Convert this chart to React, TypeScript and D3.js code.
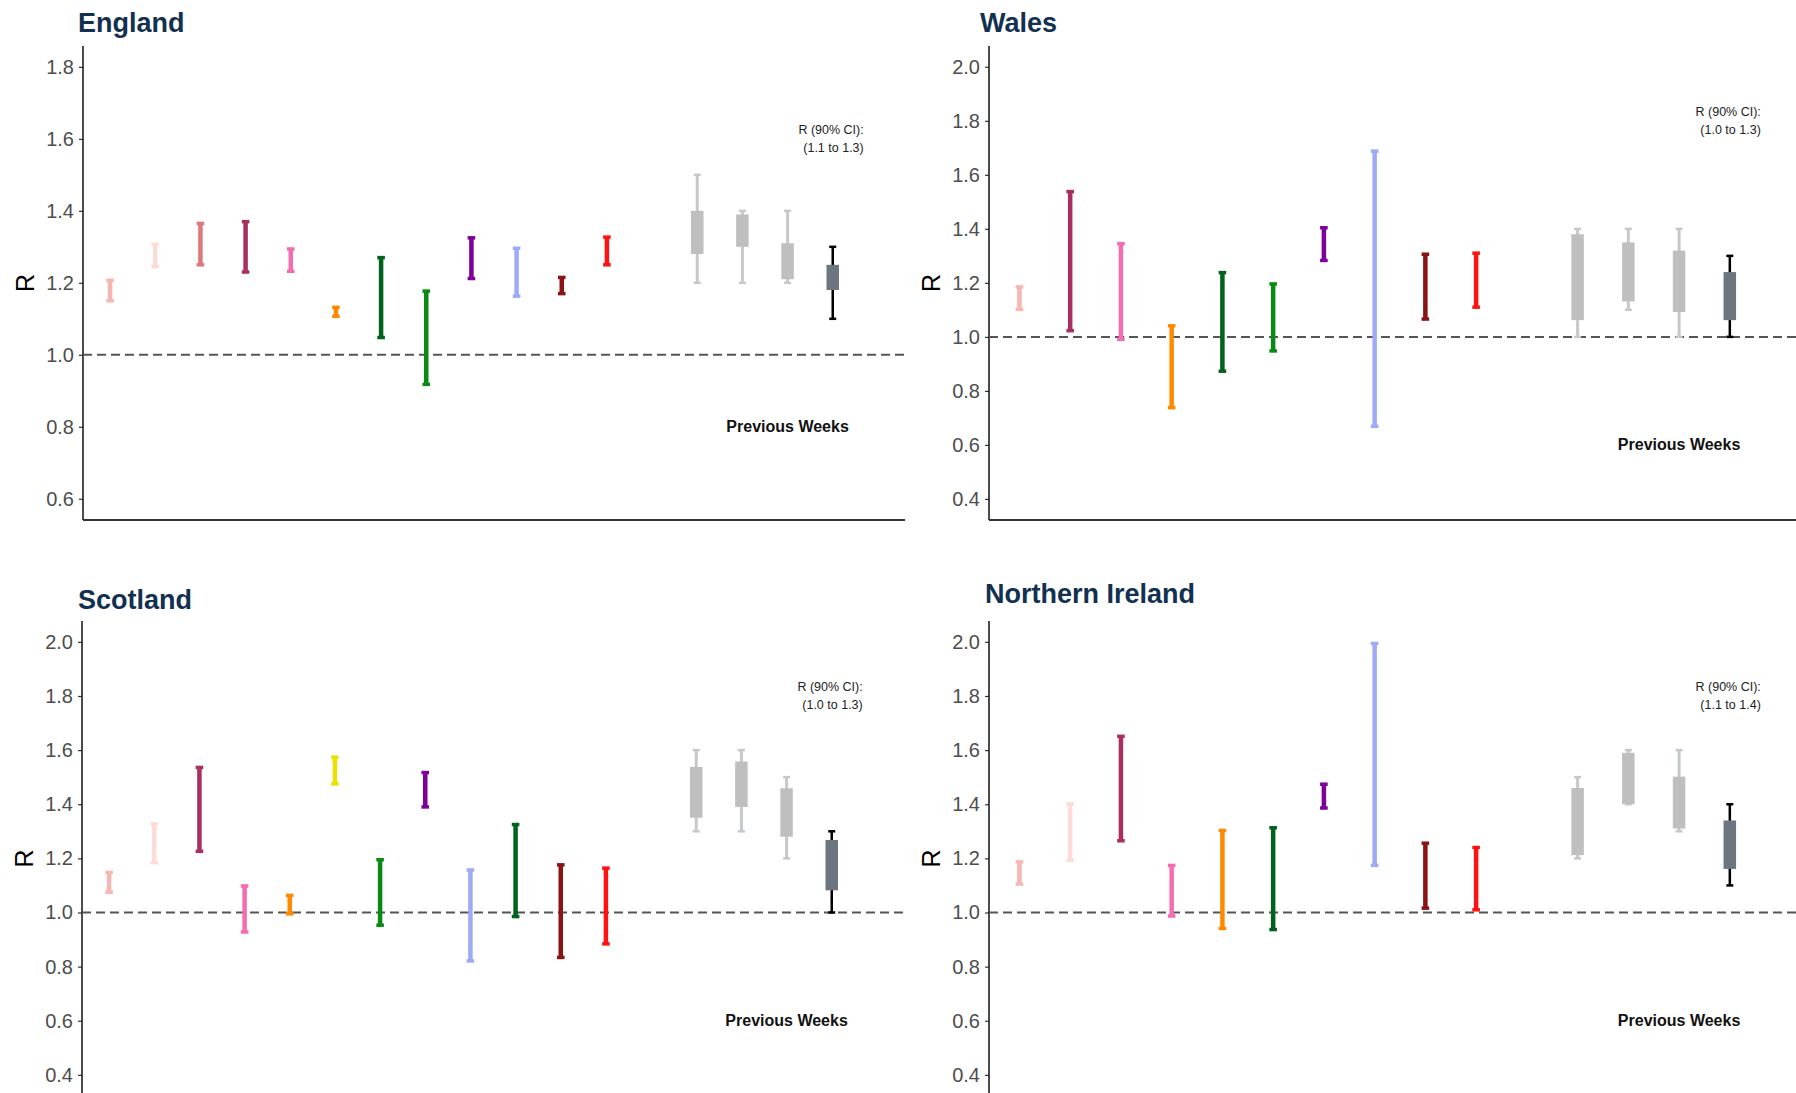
import React, { useEffect, useRef } from 'react';
import * as d3 from 'd3';

// model colours (one per modelling group)
const modelColours: Record<string, string> = {
  m1: '#f8b6b0',
  m2: '#fddcd7',
  m3: '#de787c',
  m4: '#a82f5f',
  m5: '#f46cb2',
  m6: '#ff8a00',
  m7: '#ece000',
  m8: '#00621c',
  m9: '#0a8a14',
  m10: '#7c0099',
  m11: '#9caaf7',
  m12: '#8a1414',
  m13: '#ff1212',
};

const weekNames = ['w1', 'w2', 'w3', 'w4'];

// England
const englandModels = ['m1', 'm2', 'm3', 'm4', 'm5', 'm6', 'm8', 'm9', 'm10', 'm11', 'm12', 'm13'];
const englandLow = [1.15, 1.245, 1.25, 1.23, 1.232, 1.107, 1.048, 0.918, 1.212, 1.163, 1.17, 1.25];
const englandHigh = [1.207, 1.307, 1.365, 1.37, 1.294, 1.132, 1.27, 1.177, 1.325, 1.296, 1.215, 1.327];
const englandWeekLow = [1.2, 1.2, 1.2, 1.1];
const englandWeekHigh = [1.5, 1.4, 1.4, 1.3];
const englandBoxLow = [1.28, 1.3, 1.21, 1.18];
const englandBoxHigh = [1.4, 1.39, 1.31, 1.25];

// Wales
const walesModels = ['m1', 'm4', 'm5', 'm6', 'm8', 'm9', 'm10', 'm11', 'm12', 'm13'];
const walesLow = [1.102, 1.023, 0.991, 0.738, 0.873, 0.948, 1.283, 0.669, 1.066, 1.11];
const walesHigh = [1.185, 1.538, 1.345, 1.041, 1.238, 1.196, 1.404, 1.688, 1.306, 1.31];
const walesWeekLow = [1.0, 1.1, 1.0, 1.0];
const walesWeekHigh = [1.4, 1.4, 1.4, 1.3];
const walesBoxLow = [1.062, 1.131, 1.092, 1.062];
const walesBoxHigh = [1.38, 1.35, 1.319, 1.24];

// Scotland
const scotlandModels = ['m1', 'm2', 'm4', 'm5', 'm6', 'm7', 'm9', 'm10', 'm11', 'm8', 'm12', 'm13'];
const scotlandLow = [1.075, 1.184, 1.226, 0.928, 0.995, 1.475, 0.953, 1.39, 0.821, 0.985, 0.834, 0.884];
const scotlandHigh = [1.148, 1.327, 1.536, 1.098, 1.063, 1.574, 1.195, 1.517, 1.157, 1.325, 1.176, 1.164];
const scotlandWeekLow = [1.3, 1.3, 1.2, 1.0];
const scotlandWeekHigh = [1.6, 1.6, 1.5, 1.3];
const scotlandBoxLow = [1.35, 1.39, 1.28, 1.082];
const scotlandBoxHigh = [1.538, 1.558, 1.459, 1.268];

// Northern Ireland
const niModels = ['m1', 'm2', 'm4', 'm5', 'm6', 'm8', 'm10', 'm11', 'm12', 'm13'];
const niLow = [1.105, 1.193, 1.265, 0.987, 0.941, 0.937, 1.386, 1.174, 1.016, 1.01];
const niHigh = [1.187, 1.401, 1.651, 1.174, 1.303, 1.313, 1.474, 1.994, 1.256, 1.24];
const niWeekLow = [1.2, 1.4, 1.3, 1.1];
const niWeekHigh = [1.5, 1.6, 1.6, 1.4];
const niBoxLow = [1.212, 1.4, 1.31, 1.161];
const niBoxHigh = [1.46, 1.59, 1.502, 1.34];

const ticksEngland = [0.6, 0.8, 1.0, 1.2, 1.4, 1.6, 1.8];
const ticksOther = [0.4, 0.6, 0.8, 1.0, 1.2, 1.4, 1.6, 1.8, 2.0];

const panels = [
  {
    title: 'England', models: englandModels, low: englandLow, high: englandHigh,
    weekLow: englandWeekLow, weekHigh: englandWeekHigh, boxLow: englandBoxLow, boxHigh: englandBoxHigh,
    ci: '(1.1 to 1.3)', domain: [0.541, 1.858], ticks: ticksEngland, ciY: 1.6, prevY: 0.8,
    frame: { x0: 83, x1: 905, y0: 46, y1: 520 }, titleX: 78, titleY: 32,
  },
  {
    title: 'Wales', models: walesModels, low: walesLow, high: walesHigh,
    weekLow: walesWeekLow, weekHigh: walesWeekHigh, boxLow: walesBoxLow, boxHigh: walesBoxHigh,
    ci: '(1.0 to 1.3)', domain: [0.322, 2.077], ticks: ticksOther, ciY: 1.8, prevY: 0.6,
    frame: { x0: 989, x1: 1811, y0: 46, y1: 520 }, titleX: 980, titleY: 32,
  },
  {
    title: 'Scotland', models: scotlandModels, low: scotlandLow, high: scotlandHigh,
    weekLow: scotlandWeekLow, weekHigh: scotlandWeekHigh, boxLow: scotlandBoxLow, boxHigh: scotlandBoxHigh,
    ci: '(1.0 to 1.3)', domain: [0.322, 2.077], ticks: ticksOther, ciY: 1.8, prevY: 0.6,
    frame: { x0: 82, x1: 904, y0: 621, y1: 1096 }, titleX: 78, titleY: 609,
  },
  {
    title: 'Northern Ireland', models: niModels, low: niLow, high: niHigh,
    weekLow: niWeekLow, weekHigh: niWeekHigh, boxLow: niBoxLow, boxHigh: niBoxHigh,
    ci: '(1.1 to 1.4)', domain: [0.322, 2.077], ticks: ticksOther, ciY: 1.8, prevY: 0.6,
    frame: { x0: 989, x1: 1811, y0: 621, y1: 1096 }, titleX: 985, titleY: 603,
  },
];

const FONT = '"Liberation Sans", Arial, sans-serif';

const App = () => {
  const ref = useRef<SVGSVGElement>(null);

  useEffect(() => {
    const svg = d3.select(ref.current);
    svg.selectAll('*').remove();

    panels.forEach((p) => {
      const f = p.frame;
      const g = svg.append('g');
      // slots: models, a gap, the four weeks, one spare column
      const slots = [...p.models, 'gap', ...weekNames, 'spare'];
      const x = d3.scalePoint<string>().domain(slots).range([f.x0, f.x1]).padding(0.6);
      const y = d3.scaleLinear().domain(p.domain).range([f.y1, f.y0]);

      // y axis
      const ax = g.append('g')
        .attr('transform', `translate(${f.x0},0)`)
        .call(d3.axisLeft(y).tickValues(p.ticks).tickFormat(d3.format('.1f')).tickSize(4).tickPadding(5));
      ax.select('.domain').remove();
      ax.selectAll('.tick line').attr('stroke', '#333').attr('stroke-width', 1.2);
      ax.selectAll('.tick text')
        .attr('fill', '#4d4d4d')
        .style('font-family', FONT)
        .style('font-size', '20px');

      g.append('line')
        .attr('x1', f.x0).attr('x2', f.x0)
        .attr('y1', f.y0).attr('y2', f.y1)
        .attr('stroke', '#111').attr('stroke-width', 1.5);
      g.append('line')
        .attr('x1', f.x0).attr('x2', f.x1)
        .attr('y1', f.y1).attr('y2', f.y1)
        .attr('stroke', '#333').attr('stroke-width', 2);

      // R = 1 reference
      g.append('line')
        .attr('x1', f.x0).attr('x2', f.x1)
        .attr('y1', y(1)).attr('y2', y(1))
        .attr('stroke', '#555').attr('stroke-width', 2)
        .attr('stroke-dasharray', '9,5');

      // model error bars
      p.models.forEach((m, i) => {
        const cx = x(m)!;
        const col = modelColours[m];
        g.append('line')
          .attr('x1', cx).attr('x2', cx)
          .attr('y1', y(p.low[i])).attr('y2', y(p.high[i]))
          .attr('stroke', col).attr('stroke-width', 4.5);
        [p.low[i], p.high[i]].forEach((v) => {
          g.append('line')
            .attr('x1', cx - 3.8).attr('x2', cx + 3.8)
            .attr('y1', y(v)).attr('y2', y(v))
            .attr('stroke', col).attr('stroke-width', 3.5);
        });
      });

      // previous weeks + current week
      weekNames.forEach((w, i) => {
        const cx = x(w)!;
        const current = i === weekNames.length - 1;
        const wCol = current ? '#000' : '#c6c9cc';
        const bCol = current ? '#6d7680' : '#bfbfbf';
        g.append('line')
          .attr('x1', cx).attr('x2', cx)
          .attr('y1', y(p.weekLow[i])).attr('y2', y(p.weekHigh[i]))
          .attr('stroke', wCol).attr('stroke-width', current ? 2.5 : 3);
        [p.weekLow[i], p.weekHigh[i]].forEach((v) => {
          g.append('line')
            .attr('x1', cx - 3.5).attr('x2', cx + 3.5)
            .attr('y1', y(v)).attr('y2', y(v))
            .attr('stroke', wCol).attr('stroke-width', 2.5);
        });
        g.append('rect')
          .attr('x', cx - 6.25).attr('width', 12.5)
          .attr('y', y(p.boxHigh[i]))
          .attr('height', y(p.boxLow[i]) - y(p.boxHigh[i]))
          .attr('fill', bCol);
      });

      // annotations
      const ciX = x(weekNames[3])! + 31;
      const ciT = g.append('text')
        .attr('text-anchor', 'end')
        .style('font-family', FONT).style('font-size', '12.5px')
        .attr('fill', '#222');
      ciT.append('tspan').attr('x', ciX).attr('y', y(p.ciY) - 5).text('R (90% CI):');
      ciT.append('tspan').attr('x', ciX).attr('y', y(p.ciY) + 13).text(p.ci);

      g.append('text')
        .attr('x', x(weekNames[2])!).attr('y', y(p.prevY) + 5)
        .attr('text-anchor', 'middle')
        .style('font-family', FONT).style('font-size', '16px').style('font-weight', 'bold')
        .attr('fill', '#111')
        .text('Previous Weeks');

      g.append('text')
        .attr('transform', `translate(${f.x0 - 49},${(f.y0 + f.y1) / 2}) rotate(-90)`)
        .attr('text-anchor', 'middle')
        .style('font-family', FONT).style('font-size', '25px')
        .attr('fill', '#000')
        .text('R');

      g.append('text')
        .attr('x', p.titleX).attr('y', p.titleY)
        .style('font-family', FONT).style('font-size', '27px').style('font-weight', 'bold')
        .attr('fill', '#12304f')
        .text(p.title);
    });
  }, []);

  return (
    <svg
      ref={ref}
      width={1796}
      height={1093}
      style={{ position: 'absolute', left: 0, top: 0, background: '#fff' }}
    />
  );
};

export default App;
